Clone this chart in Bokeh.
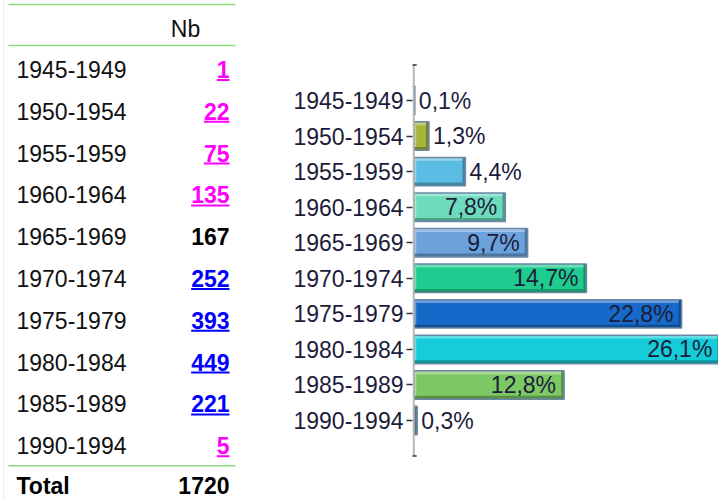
from bokeh.plotting import figure
from bokeh.layouts import row
from bokeh.models import ColumnDataSource, Range1d, FixedTicker
from bokeh.core.properties import value
from bokeh.embed import file_html
from bokeh.resources import INLINE

# ---------------- data ----------------
periods = ["1945-1949", "1950-1954", "1955-1959", "1960-1964", "1965-1969",
           "1970-1974", "1975-1979", "1980-1984", "1985-1989", "1990-1994"]
counts = [1, 22, 75, 135, 167, 252, 393, 449, 221, 5]
total = 1720
pct = [0.1, 1.3, 4.4, 7.8, 9.7, 14.7, 22.8, 26.1, 12.8, 0.3]
pct_labels = ["0,1%", "1,3%", "4,4%", "7,8%", "9,7%",
              "14,7%", "22,8%", "26,1%", "12,8%", "0,3%"]
header_label = "Nb"
total_label = "Total"

# ---------------- styles ----------------
FONT = "Liberation Sans"
FS = "23px"
count_colors = ["#ff00ff", "#ff00ff", "#ff00ff", "#ff00ff", "#000000",
                "#0000ff", "#0000ff", "#0000ff", "#0000ff", "#ff00ff"]
count_underlined = [True, True, True, True, False, True, True, True, True, True]
bar_colors = ["#5b7a9e", "#a4b43c", "#5bbde3", "#6edcbc", "#6ca2dc",
              "#1dcc8e", "#1669c8", "#15cdd8", "#7cc864", "#7fa0b8"]
GREEN = "#8ed97c"
LABEL_COLOR = "#1c1c3a"


def mix(hex_color, target, t):
    h = hex_color.lstrip("#")
    c = [int(h[i:i + 2], 16) for i in (0, 2, 4)]
    return "#%02x%02x%02x" % tuple(int(round(a + (target - a) * t)) for a in c)


W, H = 718, 499

# ---------------- left: table ----------------
W_TABLE = 270
t = figure(width=W_TABLE, height=H, x_range=Range1d(0, W_TABLE), y_range=Range1d(H, 0),
           x_axis_location=None, y_axis_location=None, output_backend="svg",
           toolbar_location=None, min_border=0, outline_line_color=None)
t.grid.visible = False

row_top, row_step = 69, 41.8
row_y = [row_top + row_step * i for i in range(len(periods))]
label_x, value_x, line_x0, line_x1 = 16, 229, 8, 235
digit_w = 0.556 * 23

# faint left border
t.segment(x0=[3], x1=[3], y0=[0], y1=[H], line_color="#e6f3df", line_width=1)

tsrc = ColumnDataSource(dict(y=row_y, period=periods,
                             count=[str(c) for c in counts], color=count_colors))
t.text(x=label_x, y="y", text="period", source=tsrc, text_font=value(FONT),
       text_font_size=FS, text_baseline="middle", text_align="left", text_color="#111111")
t.text(x=value_x, y="y", text="count", source=tsrc, text_font=value(FONT),
       text_font_size=FS, text_font_style="bold", text_baseline="middle",
       text_align="right", text_color="color")

ul = [i for i in range(len(counts)) if count_underlined[i]]
t.segment(x0=[value_x - digit_w * len(str(counts[i])) for i in ul], x1=[value_x] * len(ul),
          y0=[row_y[i] + 10.5 for i in ul], y1=[row_y[i] + 10.5 for i in ul],
          line_color=[count_colors[i] for i in ul], line_width=2)

# header, rules, total
t.text(x=[185], y=[28], text=[header_label], text_font=value(FONT), text_font_size=FS,
       text_baseline="middle", text_align="center", text_color="#111111")
rule_y = [4, 45, row_y[-1] + 20]
t.segment(x0=[line_x0] * 3, x1=[line_x1] * 3, y0=rule_y, y1=rule_y,
          line_color=GREEN, line_width=1.5)
total_y = row_y[-1] + 40
t.text(x=[label_x], y=[total_y], text=[total_label], text_font=value(FONT), text_font_size=FS,
       text_font_style="bold", text_baseline="middle", text_align="left", text_color="#000000")
t.text(x=[value_x], y=[total_y], text=[str(total)], text_font=value(FONT), text_font_size=FS,
       text_font_style="bold", text_baseline="middle", text_align="right", text_color="#000000")

# ---------------- right: bar chart ----------------
W_BAR = W - W_TABLE
ypos = list(range(len(periods)))          # 0 = first period (top)
y_top_pix, y_step_pix = 100, 35.56        # page layout of the category bands
y_range = Range1d(start=(H - y_top_pix) / y_step_pix, end=-y_top_pix / y_step_pix)
frame_left = 412
px_per_pct = 11.75
x_start = -0.1
x_range = Range1d(x_start, x_start + (W - frame_left) / px_per_pct)

p = figure(width=W_BAR, height=H, x_range=x_range, y_range=y_range,
           x_axis_location=None, output_backend="svg", toolbar_location=None,
           min_border_left=frame_left - W_TABLE, min_border_right=0,
           min_border_top=0, min_border_bottom=0, outline_line_color=None)
p.grid.visible = False

src = ColumnDataSource(dict(
    y=ypos, pct=pct, label=pct_labels, color=bar_colors,
    ytop=[v - 0.35 for v in ypos], ybot=[v + 0.35 for v in ypos],
    light=[mix(c, 255, 0.35) for c in bar_colors],
    dark=[mix(c, 0, 0.28) for c in bar_colors],
    left_end=[min(v, 0.22) for v in pct],
    right_start=[max(0, v - 0.25) for v in pct],
))
BAR_H = 0.8
p.hbar(y="y", left=0, right="pct", height=BAR_H, fill_color="color",
       line_color=None, source=src)
p.hbar(y="ytop", left=0, right="pct", height=0.09, fill_color="light",
       line_color=None, source=src)
p.hbar(y="y", left=0, right="left_end", height=BAR_H, fill_color="light",
       line_color=None, source=src)
p.hbar(y="ybot", left=0, right="pct", height=0.09, fill_color="dark",
       line_color=None, source=src)
p.hbar(y="y", left="right_start", right="pct", height=BAR_H, fill_color="dark",
       line_color=None, source=src)
p.hbar(y="y", left=0, right="pct", height=BAR_H, fill_color=None,
       line_color="#6b87a8", line_width=1.5, source=src)

# axis line (spanning half a band beyond the outer categories) with end marks
ends = [ypos[0] - 1, ypos[-1] + 1]
p.segment(x0=[0], x1=[0], y0=[ends[0]], y1=[ends[1]], line_color="#b4b4b4", line_width=2)
p.scatter(x=[0, 0], y=ends, marker="dash", size=6, line_color="#333333", line_width=1.5)

inside = [i for i in range(len(pct)) if pct[i] >= 5]
outside = [i for i in range(len(pct)) if pct[i] < 5]
for idx, off, align in ((inside, -8, "right"), (outside, 4, "left")):
    s = ColumnDataSource(dict(y=[ypos[i] for i in idx], pct=[pct[i] for i in idx],
                              label=[pct_labels[i] for i in idx]))
    p.text(x="pct", y="y", text="label", source=s, x_offset=off, text_align=align,
           text_baseline="middle", text_font=value(FONT), text_font_size=FS,
           text_color=LABEL_COLOR)

ax = p.yaxis[0]
ax.ticker = FixedTicker(ticks=ypos)
ax.major_label_overrides = {v: lab for v, lab in zip(ypos, periods)}
ax.axis_line_color = None
ax.major_tick_line_color = "#333333"
ax.major_tick_line_width = 1.5
ax.major_tick_out = 6
ax.major_tick_in = 0
ax.minor_tick_line_color = None
ax.major_label_standoff = 3
ax.major_label_text_font = FONT
ax.major_label_text_font_size = FS
ax.major_label_text_color = LABEL_COLOR

layout = row(t, p)
open("out.html", "w").write(file_html(layout, INLINE))
